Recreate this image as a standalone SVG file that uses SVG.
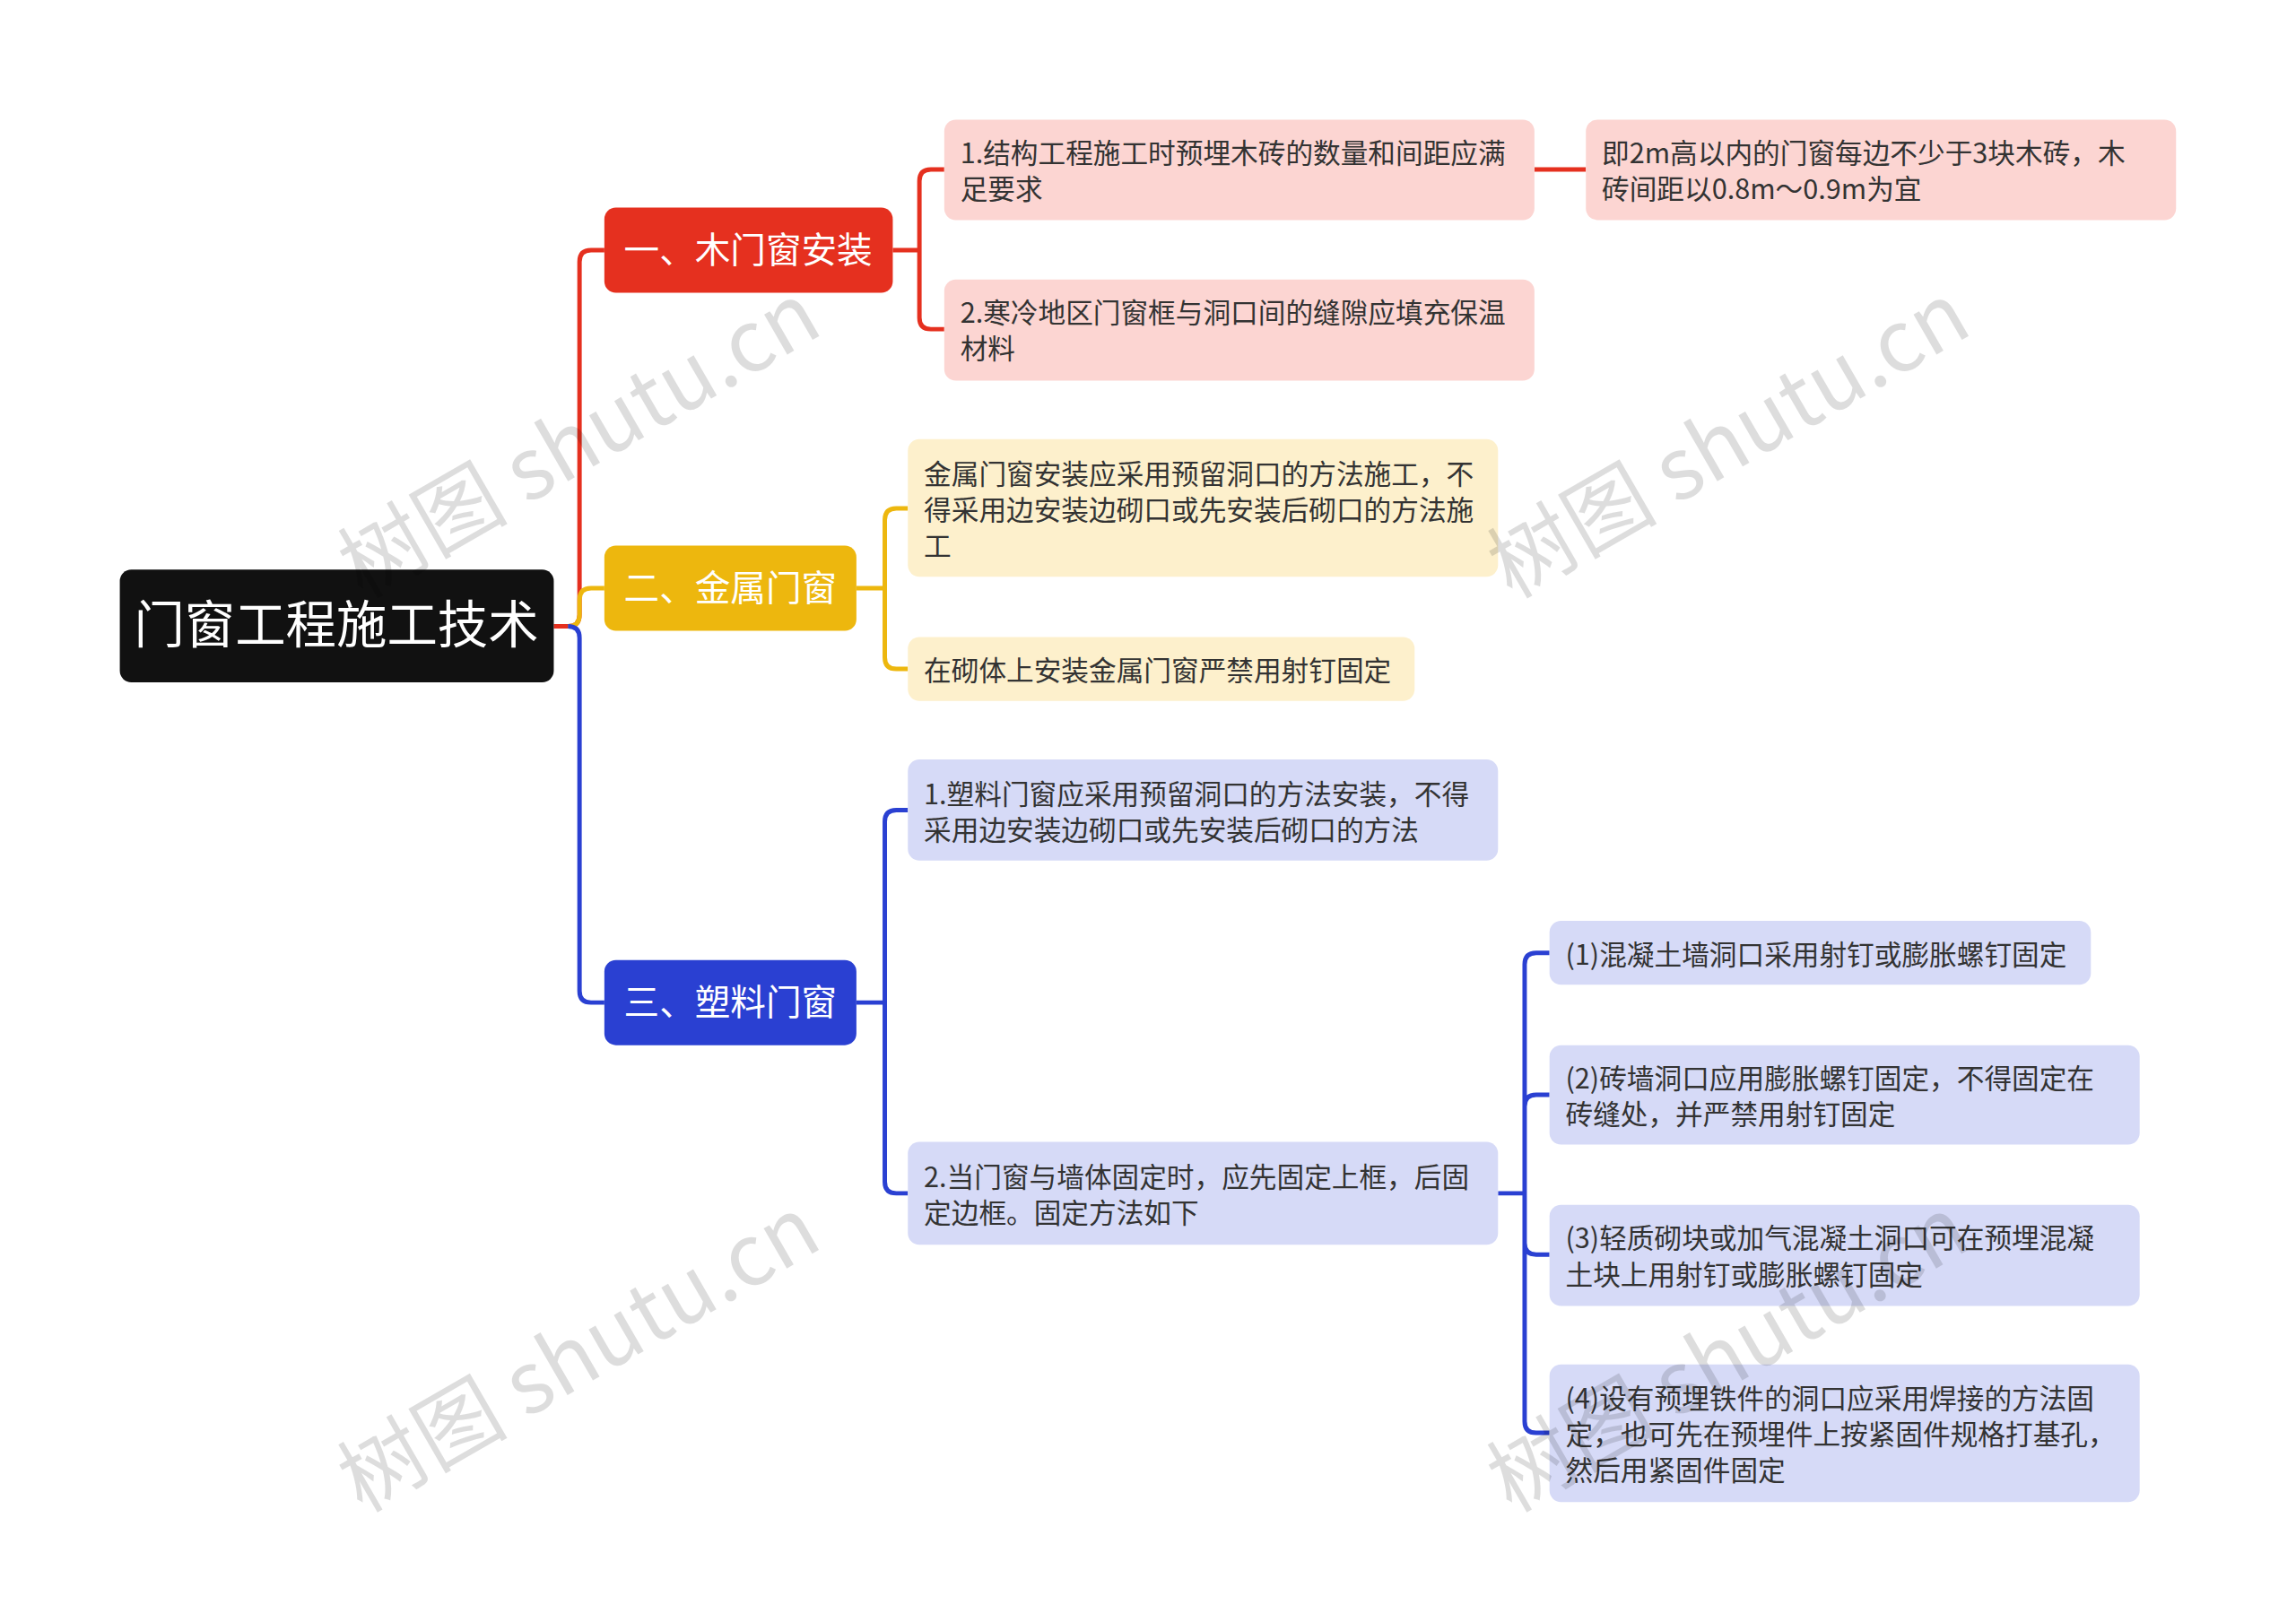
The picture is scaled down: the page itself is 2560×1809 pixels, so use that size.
<svg xmlns="http://www.w3.org/2000/svg" width="2560" height="1809" viewBox="0 0 2560 1809">
<style>
text{font-family:"Noto Sans CJK SC","Noto Sans",sans-serif}
.t{font-size:31px;fill:#333}
.l1{font-size:40px;fill:#fff}
.wm{font-size:96px;fill:#000;opacity:0.13}
.c{fill:none;stroke-width:5}
.r{stroke:#E5301F}.y{stroke:#EDB70E}.b{stroke:#2A40D2}
</style>
<rect width="2560" height="1809" fill="#fff"/>
<g transform="scale(0.9895)">
<g id="connectors">
<path class="c r" d="M624,706 H640 Q653,706 653,693 V295 Q653,282 666,282 H681"/>
<path class="c y" d="M640,706 Q653,706 653,693 V676 Q653,663 666,663 H681"/>
<path class="c b" d="M640,706 Q653,706 653,719 V1117 Q653,1130 666,1130 H681"/>
<path class="c r" d="M1006,282 H1036 M1036,282 V204 Q1036,191 1049,191 H1064 M1036,282 V358 Q1036,371 1049,371 H1064"/>
<path class="c r" d="M1729,191 H1787"/>
<path class="c y" d="M965,663 H997 M997,663 V586 Q997,573 1010,573 H1023 M997,663 V741 Q997,754 1010,754 H1023"/>
<path class="c b" d="M965,1130 H997 M997,1130 V926 Q997,913 1010,913 H1023 M997,1130 V1332 Q997,1345 1010,1345 H1023"/>
<path class="c b" d="M1688,1345 H1718 M1718,1345 V1087 Q1718,1074 1731,1074 H1746 M1718,1345 V1247 Q1718,1234 1731,1234 H1746 M1718,1345 V1401 Q1718,1414 1731,1414 H1746 M1718,1345 V1602 Q1718,1615 1731,1615 H1746"/>
</g>
<g id="root"><rect x="135" y="642" width="489" height="127" rx="13" fill="#111"/><text x="379" y="725" font-size="57" fill="#fff" text-anchor="middle">门窗工程施工技术</text></g>
<g id="n1"><rect x="681" y="234" width="325" height="96" rx="13" fill="#E5301F"/><text class="l1" x="843" y="296" text-anchor="middle">一、木门窗安装</text></g>
<g id="n2"><rect x="681" y="615" width="284" height="96" rx="13" fill="#EDB70E"/><text class="l1" x="823" y="677" text-anchor="middle">二、金属门窗</text></g>
<g id="n3"><rect x="681" y="1082" width="284" height="96" rx="13" fill="#2A40D2"/><text class="l1" x="823" y="1144" text-anchor="middle">三、塑料门窗</text></g>
<g id="r1"><rect x="1064" y="135" width="665" height="113" rx="13" fill="#FCD5D2"/><text class="t" x="1082" y="184">1.结构工程施工时预埋木砖的数量和间距应满</text><text class="t" x="1082" y="224">足要求</text></g>
<g id="r1a"><rect x="1787" y="135" width="665" height="113" rx="13" fill="#FCD5D2"/><text class="t" x="1805" y="184">即2m高以内的门窗每边不少于3块木砖，木</text><text class="t" x="1805" y="224">砖间距以0.8m～0.9m为宜</text></g>
<g id="r2"><rect x="1064" y="315" width="665" height="114" rx="13" fill="#FCD5D2"/><text class="t" x="1082" y="364">2.寒冷地区门窗框与洞口间的缝隙应填充保温</text><text class="t" x="1082" y="404">材料</text></g>
<g id="y1"><rect x="1023" y="495" width="665" height="155" rx="13" fill="#FDF0CC"/><text class="t" x="1041" y="546">金属门窗安装应采用预留洞口的方法施工，不</text><text class="t" x="1041" y="586">得采用边安装边砌口或先安装后砌口的方法施</text><text class="t" x="1041" y="627">工</text></g>
<g id="y2"><rect x="1023" y="718" width="571" height="72" rx="13" fill="#FDF0CC"/><text class="t" x="1041" y="767">在砌体上安装金属门窗严禁用射钉固定</text></g>
<g id="b1"><rect x="1023" y="856" width="665" height="114" rx="13" fill="#D6DAF7"/><text class="t" x="1041" y="907">1.塑料门窗应采用预留洞口的方法安装，不得</text><text class="t" x="1041" y="947">采用边安装边砌口或先安装后砌口的方法</text></g>
<g id="b2"><rect x="1023" y="1287" width="665" height="116" rx="13" fill="#D6DAF7"/><text class="t" x="1041" y="1338">2.当门窗与墙体固定时，应先固定上框，后固</text><text class="t" x="1041" y="1378">定边框。固定方法如下</text></g>
<g id="c1"><rect x="1746" y="1038" width="610" height="72" rx="13" fill="#D6DAF7"/><text class="t" x="1764" y="1087">(1)混凝土墙洞口采用射钉或膨胀螺钉固定</text></g>
<g id="c2"><rect x="1746" y="1178" width="665" height="112" rx="13" fill="#D6DAF7"/><text class="t" x="1764" y="1227">(2)砖墙洞口应用膨胀螺钉固定，不得固定在</text><text class="t" x="1764" y="1267">砖缝处，并严禁用射钉固定</text></g>
<g id="c3"><rect x="1746" y="1358" width="665" height="114" rx="13" fill="#D6DAF7"/><text class="t" x="1764" y="1407">(3)轻质砌块或加气混凝土洞口可在预埋混凝</text><text class="t" x="1764" y="1448">土块上用射钉或膨胀螺钉固定</text></g>
<g id="c4"><rect x="1746" y="1538" width="665" height="155" rx="13" fill="#D6DAF7"/><text class="t" x="1764" y="1588">(4)设有预埋铁件的洞口应采用焊接的方法固</text><text class="t" x="1764" y="1628">定，也可先在预埋件上按紧固件规格打基孔，</text><text class="t" x="1764" y="1669">然后用紧固件固定</text></g>
<g id="watermarks">
<text class="wm" x="652" y="530" text-anchor="middle" transform="rotate(-30 652 495)">树图 shutu.cn</text>
<text class="wm" x="1947" y="530" text-anchor="middle" transform="rotate(-30 1947 495)">树图 shutu.cn</text>
<text class="wm" x="652" y="1560" text-anchor="middle" transform="rotate(-30 652 1526)">树图 shutu.cn</text>
<text class="wm" x="1947" y="1560" text-anchor="middle" transform="rotate(-30 1947 1526)">树图 shutu.cn</text>
</g>
</g>
</svg>
